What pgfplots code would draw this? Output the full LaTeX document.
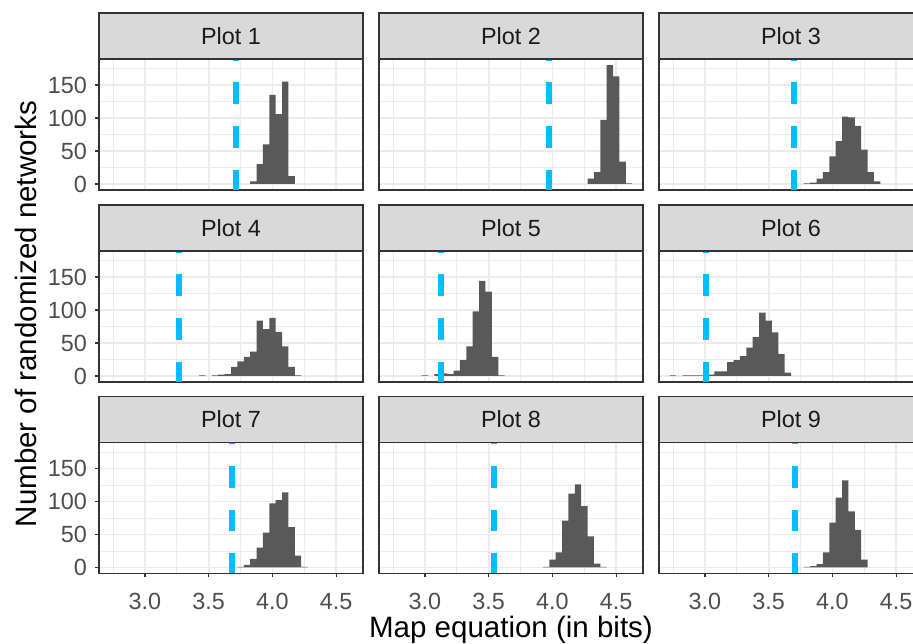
\documentclass[border=0pt]{standalone}
\usepackage{pgfplots}
\pgfplotsset{compat=1.18}
\usepackage{fontspec}
\setmainfont{Liberation Sans}
\definecolor{grey10}{HTML}{1A1A1A}
\definecolor{grey20}{HTML}{333333}
\definecolor{grey30}{HTML}{4D4D4D}
\definecolor{grey35}{HTML}{595959}
\definecolor{grey85}{HTML}{D9D9D9}
\definecolor{grey92}{HTML}{EBEBEB}
\definecolor{dsb}{HTML}{00BFFF}
\newcommand\tickfont{\fontsize{23.4bp}{28bp}\selectfont}
\newcommand\titlefont{\fontsize{29.5bp}{35bp}\selectfont}
\pgfplotsset{
  panel/.style={
    anchor=south west, scale only axis, width=264bp, height=131bp,
    xmin=2.64, xmax=4.71, ymin=-9.1, ymax=189.4,
    xtick={3,3.5,4,4.5}, ytick={0,50,100,150},
    minor xtick={2.75,3.25,3.75,4.25}, minor ytick={25,75,125,175},
    grid=both,
    major grid style={line width=1.8bp, color=grey92},
    minor grid style={line width=0.9bp, color=grey92},
    axis line style={line width=1.3bp, color=grey20},
    tick align=outside, tick pos=left, major tick length=4bp, minor tick length=0pt,
    tick style={line width=1.3bp, color=grey20},
    xmajorticks=false, ymajorticks=false,
    xticklabels={}, yticklabels={},
    xticklabel style={font=\tickfont, text=grey30, anchor=base, inner sep=0pt, yshift=-31.5bp},
    yticklabel style={font=\tickfont, text=grey30, anchor=east, inner sep=0pt, xshift=-8bp},
    title style={at={(0.5,1)}, anchor=south, yshift=-6pt, fill=grey85, draw=grey20,
      line width=1.3bp, minimum width=264bp, minimum height=46bp, inner sep=0pt,
      outer sep=0pt, font=\tickfont, text=grey10},
  },
  bottomrow/.style={xmajorticks=true, xticklabels={3.0,3.5,4.0,4.5}},
  leftcol/.style={ymajorticks=true, yticklabels={0,50,100,150}},
  hist/.style={ybar, bar width=0.05, fill=grey35, draw=none},
  vl/.style={color=dsb, line width=6bp, dash pattern=on 21.8bp off 21.8bp, dash phase=1.5bp},
}
\begin{document}
\begin{tikzpicture}
% Row 1
\begin{axis}[panel, leftcol, at={(99bp,454bp)}, title={Plot 1}]
\addplot[hist] coordinates {(3.85,4) (3.90,30) (3.95,60) (4.00,135) (4.05,106) (4.10,155) (4.15,12)};
\addplot[vl] coordinates {(3.714,-9.1) (3.714,189.4)};
\end{axis}
\begin{axis}[panel, at={(379bp,454bp)}, title={Plot 2}]
\addplot[hist] coordinates {(4.30,8) (4.35,18) (4.40,97) (4.45,180) (4.50,163) (4.55,34) (4.60,1)};
\addplot[vl] coordinates {(3.973,-9.1) (3.973,189.4)};
\end{axis}
\begin{axis}[panel, at={(659bp,454bp)}, title={Plot 3}]
\addplot[hist] coordinates {(3.80,1) (3.85,2) (3.90,8) (3.95,18) (4.00,42) (4.05,65) (4.10,102) (4.15,101) (4.20,88) (4.25,52) (4.30,18) (4.35,4)};
\addplot[vl] coordinates {(3.700,-9.1) (3.700,189.4)};
\end{axis}
% Row 2
\begin{axis}[panel, leftcol, at={(99bp,262bp)}, title={Plot 4}]
\addplot[hist] coordinates {(3.45,1) (3.55,1) (3.60,2) (3.65,3) (3.70,14) (3.75,22) (3.80,29) (3.85,37) (3.90,84) (3.95,71) (4.00,88) (4.05,67) (4.10,45) (4.15,14) (4.20,1)};
\addplot[vl] coordinates {(3.264,-9.1) (3.264,189.4)};
\end{axis}
\begin{axis}[panel, at={(379bp,262bp)}, title={Plot 5}]
\addplot[hist] coordinates {(3.00,1) (3.10,3) (3.15,4) (3.20,3) (3.25,8) (3.30,24) (3.35,45) (3.40,98) (3.45,144) (3.50,128) (3.55,29) (3.60,1)};
\addplot[vl] coordinates {(3.128,-9.1) (3.128,189.4)};
\end{axis}
\begin{axis}[panel, at={(659bp,262bp)}, title={Plot 6}]
\addplot[hist] coordinates {(2.75,1) (2.85,1) (2.90,1) (2.95,1) (3.00,1) (3.05,2) (3.10,7) (3.15,7) (3.20,21) (3.25,24) (3.30,30) (3.35,43) (3.40,59) (3.45,96) (3.50,84) (3.55,66) (3.60,33) (3.65,5)};
\addplot[vl] coordinates {(3.005,-9.1) (3.005,189.4)};
\end{axis}
% Row 3
\begin{axis}[panel, leftcol, bottomrow, at={(99bp,70.5bp)}, title={Plot 7}]
\addplot[hist] coordinates {(3.75,1) (3.80,4) (3.85,13) (3.90,30) (3.95,53) (4.00,97) (4.05,102) (4.10,114) (4.15,61) (4.20,18) (4.25,1)};
\addplot[vl] coordinates {(3.680,-9.1) (3.680,189.4)};
\end{axis}
\begin{axis}[panel, bottomrow, at={(379bp,70.5bp)}, title={Plot 8}]
\addplot[hist] coordinates {(3.95,1) (4.00,12) (4.05,23) (4.10,71) (4.15,112) (4.20,126) (4.25,93) (4.30,47) (4.35,6) (4.40,1)};
\addplot[vl] coordinates {(3.540,-9.1) (3.540,189.4)};
\end{axis}
\begin{axis}[panel, bottomrow, at={(659bp,70.5bp)}, title={Plot 9}]
\addplot[hist] coordinates {(3.80,1) (3.85,2) (3.90,5) (3.95,23) (4.00,68) (4.05,106) (4.10,132) (4.15,85) (4.20,57) (4.25,12)};
\addplot[vl] coordinates {(3.703,-9.1) (3.703,189.4)};
\end{axis}
\node[font=\titlefont, anchor=base] at (511bp,7bp) {Map equation (in bits)};
\node[font=\titlefont, rotate=90, anchor=base] at (36bp,330bp) {Number of randomized networks};
\pgfresetboundingbox
\path (0,0) rectangle (913bp,644bp);
\end{tikzpicture}
\end{document}
